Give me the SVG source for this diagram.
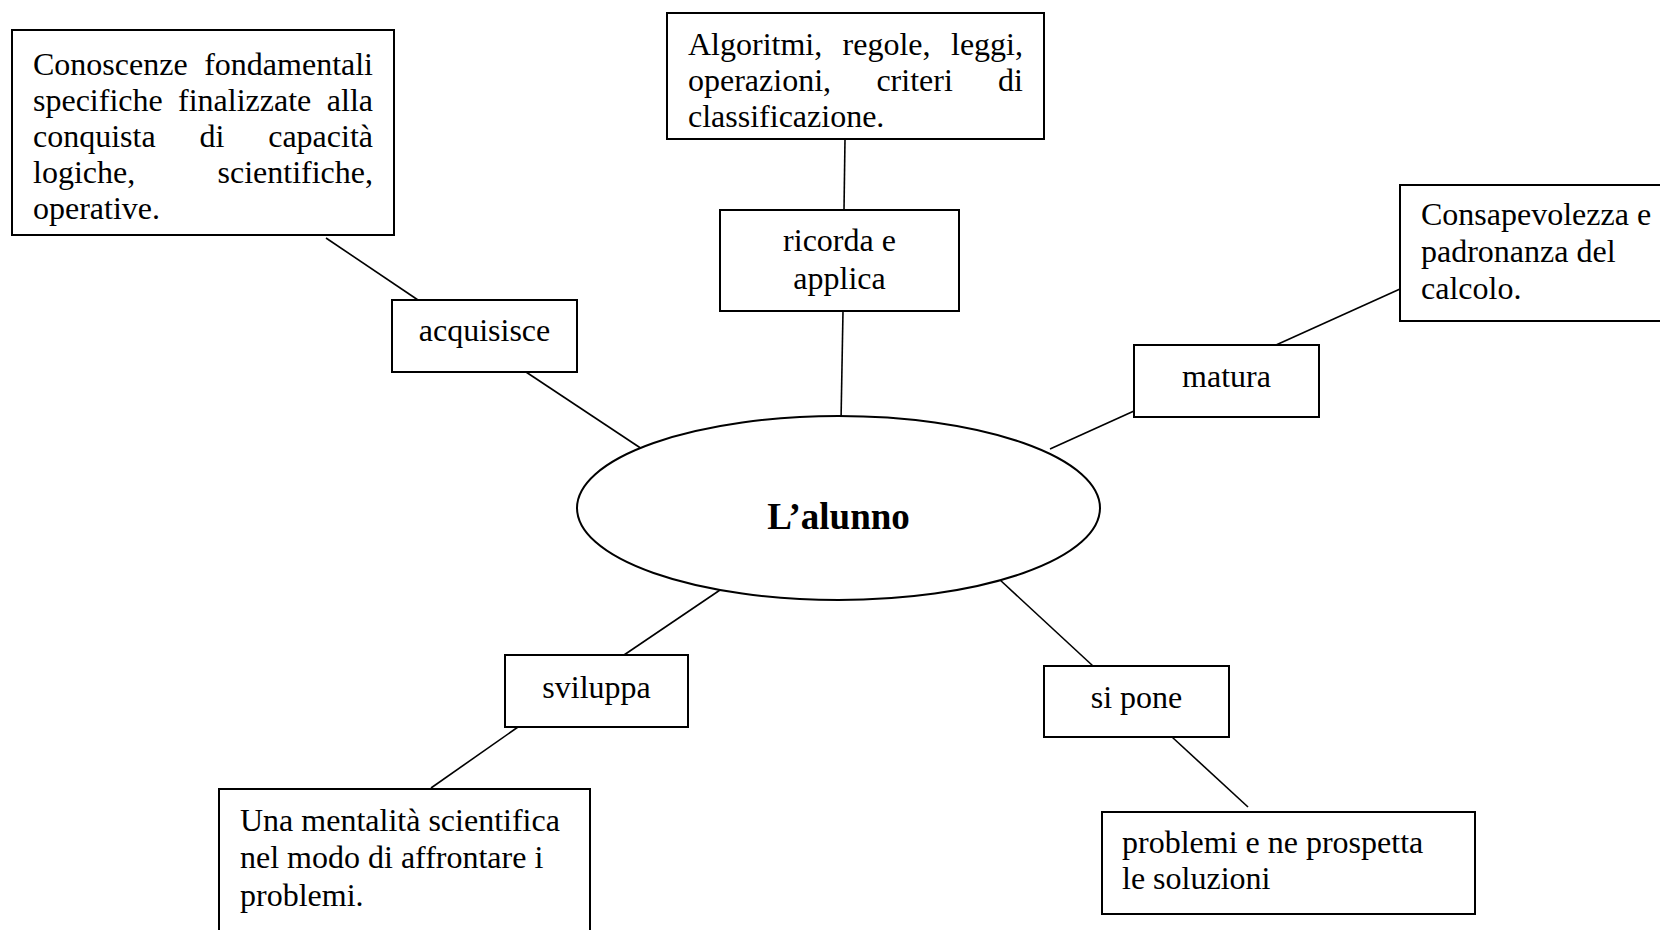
<svg xmlns="http://www.w3.org/2000/svg" width="1660" height="930" viewBox="0 0 1660 930">
  <style>
    .box { fill: #ffffff; stroke: #000000; stroke-width: 2; }
    .hub { fill: #ffffff; stroke: #000000; stroke-width: 2; }
    .link { stroke: #000000; stroke-width: 1.6; fill: none; }
    text { font-family: "Liberation Serif", "Times New Roman", serif; font-size: 32px; fill: #000000; }
    .c { text-anchor: middle; }
    .r { text-anchor: end; }
    .title { font-size: 37px; font-weight: bold; }
  </style>

  <rect x="0" y="0" width="1660" height="930" fill="#ffffff"/>

  <!-- connectors -->
  <g id="connectors">
    <line class="link" x1="326" y1="238" x2="418" y2="300"/>
    <line class="link" x1="526" y1="372" x2="642" y2="449"/>
    <line class="link" x1="845" y1="139" x2="844" y2="210"/>
    <line class="link" x1="843" y1="311" x2="841" y2="421"/>
    <line class="link" x1="1276" y1="345" x2="1400" y2="289"/>
    <line class="link" x1="1050" y1="449" x2="1134" y2="411"/>
    <line class="link" x1="723" y1="588" x2="624" y2="655"/>
    <line class="link" x1="518" y1="727" x2="431" y2="788"/>
    <line class="link" x1="999" y1="579" x2="1093" y2="666"/>
    <line class="link" x1="1172" y1="737" x2="1248" y2="807"/>
  </g>

  <!-- central node -->
  <g id="node-alunno">
    <ellipse class="hub" cx="838.5" cy="508" rx="261.5" ry="92"/>
    <text class="c title" x="838.5" y="529">L’alunno</text>
  </g>

  <!-- upper left branch -->
  <g id="node-conoscenze">
    <rect class="box" x="12" y="30" width="382" height="205"/>
    <text x="33" y="75">Conoscenze</text>
    <text class="r" x="373" y="75">fondamentali</text>
    <text x="33" y="111">specifiche</text>
    <text x="178" y="111">finalizzate</text>
    <text class="r" x="373" y="111">alla</text>
    <text x="33" y="147">conquista</text>
    <text x="199.5" y="147">di</text>
    <text class="r" x="373" y="147">capacità</text>
    <text x="33" y="183">logiche,</text>
    <text class="r" x="373" y="183">scientifiche,</text>
    <text x="33" y="219">operative.</text>
  </g>

  <g id="node-acquisisce">
    <rect class="box" x="392" y="300" width="185" height="72"/>
    <text class="c" x="484.5" y="341">acquisisce</text>
  </g>

  <!-- top branch -->
  <g id="node-algoritmi">
    <rect class="box" x="667" y="13" width="377" height="126"/>
    <text x="688" y="55">Algoritmi,</text>
    <text x="842.6" y="55">regole,</text>
    <text class="r" x="1023" y="55">leggi,</text>
    <text x="688" y="91">operazioni,</text>
    <text x="876.4" y="91">criteri</text>
    <text class="r" x="1023" y="91">di</text>
    <text x="688" y="127">classificazione.</text>
  </g>

  <g id="node-ricorda">
    <rect class="box" x="720" y="210" width="239" height="101"/>
    <text class="c" x="839.5" y="251">ricorda e</text>
    <text class="c" x="839.5" y="289">applica</text>
  </g>

  <!-- right branch -->
  <g id="node-consapevolezza">
    <rect class="box" x="1400" y="185" width="262" height="136"/>
    <text x="1421" y="225">Consapevolezza e</text>
    <text x="1421" y="262">padronanza del</text>
    <text x="1421" y="299">calcolo.</text>
  </g>

  <g id="node-matura">
    <rect class="box" x="1134" y="345" width="185" height="72"/>
    <text class="c" x="1226.5" y="387">matura</text>
  </g>

  <!-- lower left branch -->
  <g id="node-sviluppa">
    <rect class="box" x="505" y="655" width="183" height="72"/>
    <text class="c" x="596.5" y="698">sviluppa</text>
  </g>

  <g id="node-mentalita">
    <rect class="box" x="219" y="789" width="371" height="160"/>
    <text x="240" y="831">Una mentalità scientifica</text>
    <text x="240" y="868">nel modo di affrontare i</text>
    <text x="240" y="906">problemi.</text>
  </g>

  <!-- lower right branch -->
  <g id="node-sipone">
    <rect class="box" x="1044" y="666" width="185" height="71"/>
    <text class="c" x="1136.5" y="708">si pone</text>
  </g>

  <g id="node-problemi">
    <rect class="box" x="1102" y="812" width="373" height="102"/>
    <text x="1122" y="853">problemi e ne prospetta</text>
    <text x="1122" y="889">le soluzioni</text>
  </g>
</svg>
